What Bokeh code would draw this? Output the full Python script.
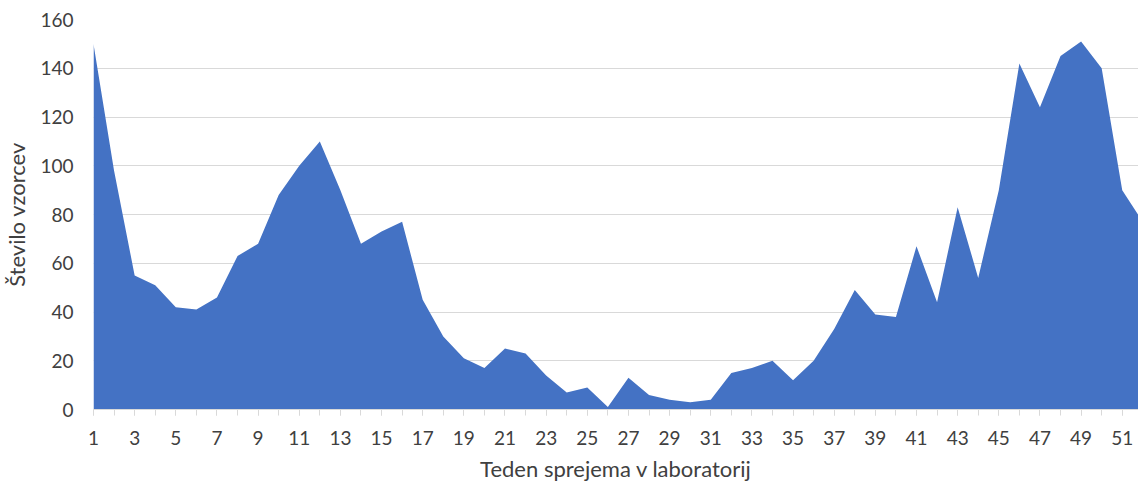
from bokeh.plotting import figure
from bokeh.models import Range1d, FixedTicker
from bokeh.embed import file_html
from bokeh.resources import INLINE

weeks = list(range(1, 53))
samples = [150, 98, 55, 51, 42, 41, 46, 63, 68, 88, 100, 110, 90, 68, 73, 77,
           45, 30, 21, 17, 25, 23, 14, 7, 9, 1, 13, 6, 4, 3, 4, 15, 17, 20, 12,
           20, 33, 49, 39, 38, 67, 44, 83, 54, 90, 142, 124, 145, 151, 140, 90, 77]
x_labels = [w for w in weeks if w % 2 == 1]
y_ticks = [0, 20, 40, 60, 80, 100, 120, 140, 160]
x_title = "Teden sprejema v laboratorij"
y_title = "Število vzorcev"

FONT = "Lato"
TXT = "#404040"

p = figure(width=1138, height=484, output_backend="svg", toolbar_location=None,
           x_range=Range1d(1, 51.79), y_range=Range1d(0, 160),
           min_border_left=92, min_border_top=19, min_border_right=0,
           min_border_bottom=0)
p.outline_line_color = None
p.background_fill_color = "white"
p.border_fill_color = "white"

p.varea(x=weeks, y1=0, y2=samples, fill_color="#4472C4")

# x axis
xa = p.xaxis[0]
xa.ticker = FixedTicker(ticks=x_labels, minor_ticks=weeks)
xa.axis_line_color = "#d9d9d9"
xa.major_tick_line_color = "#d9d9d9"
xa.minor_tick_line_color = "#d9d9d9"
xa.major_tick_in = 0
xa.major_tick_out = 6
xa.minor_tick_in = 0
xa.minor_tick_out = 6
xa.major_label_standoff = 15
xa.major_label_text_font = FONT
xa.major_label_text_font_size = "19px"
xa.major_label_text_color = TXT
xa.axis_label = x_title
xa.axis_label_text_font = FONT
xa.axis_label_text_font_size = "22px"
xa.axis_label_text_font_style = "normal"
xa.axis_label_text_color = TXT
xa.axis_label_standoff = 7

# y axis
ya = p.yaxis[0]
ya.ticker = FixedTicker(ticks=y_ticks)
ya.axis_line_color = None
ya.major_tick_line_color = None
ya.minor_tick_line_color = None
ya.major_tick_in = 0
ya.major_tick_out = 0
ya.major_label_standoff = 20
ya.major_label_text_font = FONT
ya.major_label_text_font_size = "19px"
ya.major_label_text_color = TXT
ya.axis_label = y_title
ya.axis_label_text_font = FONT
ya.axis_label_text_font_size = "22px"
ya.axis_label_text_font_style = "normal"
ya.axis_label_text_color = TXT
ya.axis_label_standoff = 7

p.xgrid.grid_line_color = None
p.ygrid.grid_line_color = "#d9d9d9"
p.ygrid.grid_line_width = 1
p.ygrid.ticker = FixedTicker(ticks=y_ticks)

open("out.html", "w").write(file_html(p, INLINE))
